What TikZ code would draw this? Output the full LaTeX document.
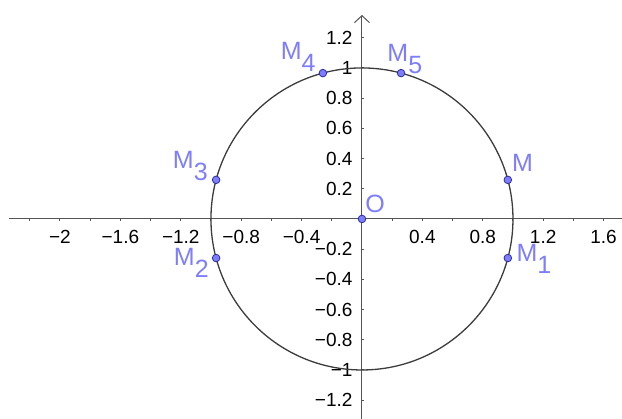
\documentclass[tikz,border=0pt]{standalone}
\usepackage{fontspec}
\setmainfont{Liberation Sans}
\usetikzlibrary{positioning,arrows.meta}
\definecolor{ptblue}{RGB}{125,125,255}
\definecolor{ptedge}{RGB}{45,45,150}
\definecolor{axisgray}{RGB}{85,85,85}
\definecolor{circgray}{RGB}{60,60,60}
\newcommand{\ptsub}[1]{\raisebox{-6pt}{#1}}

\begin{document}
\begin{tikzpicture}[x=75.5pt,y=75.5pt,
  pt/.style={circle,fill=ptblue,draw=ptedge,line width=0.4pt,inner sep=0pt,minimum size=3.8pt},
  ptlabel/.style={text=ptblue,font=\fontsize{12.5}{12.5}\selectfont,inner sep=0pt},
  ticklabel/.style={font=\fontsize{9.5}{9.5}\selectfont,inner sep=0pt}]
\useasboundingbox (-2.397,-1.3245) rectangle (1.722,1.450);
\draw[axisgray,line width=0.5pt] (-2.338,0) -- (1.722,0);
\draw[axisgray,line width=0.5pt,-{Straight Barb[length=3.5pt,width=7.5pt]}] (0,-1.3245) -- (0,1.351);
\foreach \t in {-2.2,-2,...,1.61} \draw[axisgray,line width=0.5pt] (\t,0) -- ++(0,-1pt);
\foreach \t in {-1.2,-1,...,1.21} \draw[axisgray,line width=0.5pt] (0,\t) -- ++(1pt,0);
\foreach \t/\s in {-2/−2,-1.6/−1.6,-1.2/−1.2,-0.8/−0.8,-0.4/−0.4,0.4/0.4,0.8/0.8,1.2/1.2,1.6/1.6}
  \node[ticklabel] at (\t,-0.116) {\s};
\foreach \t/\s in {-1.2/−1.2,-1/−1,-0.8/−0.8,-0.6/−0.6,-0.4/−0.4,-0.2/−0.2,0.2/0.2,0.4/0.4,0.6/0.6,0.8/0.8,1/1,1.2/1.2}
  \node[ticklabel,anchor=east] at (-0.06,\t) {\s};
\draw[circgray,line width=0.65pt] (0,0) circle[radius=1];
% points on the circle
\node[pt] (O) at (0,0) {};
\node[pt] (M) at (15:1) {};
\node[pt] (M1) at (-15:1) {};
\node[pt] (M2) at (195:1) {};
\node[pt] (M3) at (165:1) {};
\node[pt] (M4) at (105:1) {};
\node[pt] (M5) at (75:1) {};
\node[ptlabel,anchor=base west,xshift=1.5pt,yshift=3pt] (lO) at (O) {O};
\node[ptlabel,anchor=base west,xshift=2pt,yshift=4pt] (lM) at (M) {M};
\node[ptlabel,anchor=base west,xshift=4.2pt,yshift=-1.5pt] (lM1) at (M1) {M\ptsub{1}};
\node[ptlabel,anchor=base east,xshift=-3.5pt,yshift=-3.5pt] (lM2) at (M2) {M\ptsub{2}};
\node[ptlabel,anchor=base east,xshift=-4pt,yshift=5.5pt] (lM3) at (M3) {M\ptsub{3}};
\node[ptlabel,anchor=base east,xshift=-3.5pt,yshift=7pt] (lM4) at (M4) {M\ptsub{4}};
\node[ptlabel,anchor=base west,xshift=-7pt,yshift=6pt] (lM5) at (M5) {M\ptsub{5}};
\end{tikzpicture}
\end{document}
